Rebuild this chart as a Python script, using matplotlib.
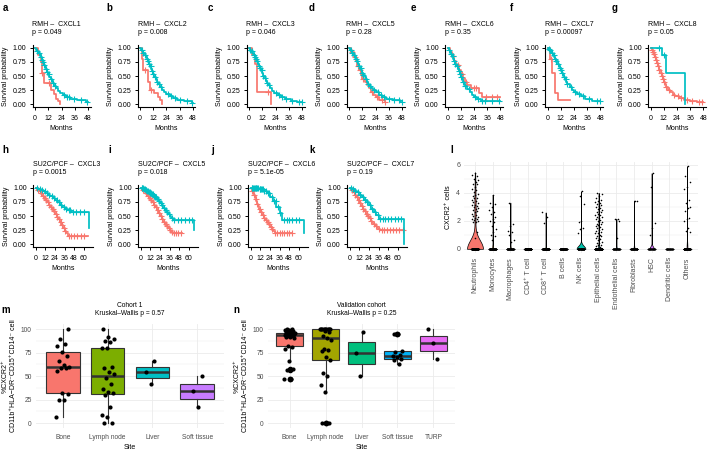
import numpy as np
import matplotlib
matplotlib.use("Agg")
import matplotlib.pyplot as plt

plt.rcParams['font.family'] = ['Liberation Sans', 'DejaVu Sans']

RED = '#F8766D'
TEAL = '#00BFC4'

# ---------------- KM data (RMH cohort, months 0-48) ----------------
a_title, a_p = "RMH \u2013  CXCL1", "p = 0.049"
a_teal_t = [0, 1, 2, 3, 4, 5, 6, 7, 8, 9, 10, 11, 12, 13, 14, 15, 16, 17, 19, 21, 23, 25, 28, 32, 38, 46, 48]
a_teal_s = [1, .97, .94, .90, .87, .83, .79, .75, .70, .66, .62, .57, .53, .49, .45, .41, .37, .33, .28, .24, .20, .16, .13, .10, .07, .03, .03]
a_teal_c = [2, 3.5, 5, 6, 7.5, 8.5, 10, 11, 12.5, 14, 16, 18, 26, 29, 31, 35, 42, 47.5]
a_red_t = [0, 3, 5, 6, 8, 14, 17, 19, 21, 23]
a_red_s = [1, .88, .75, .55, .37, .25, .18, .1, .05, 0]
a_red_c = [6.5, 13]

b_title, b_p = "RMH \u2013  CXCL2", "p = 0.008"
b_teal_t = [0, 1, 2, 3, 4, 5, 6, 7, 8, 9, 10, 11, 12, 13, 14, 15, 16, 18, 20, 22, 24, 27, 30, 34, 40, 47, 48]
b_teal_s = [1, .97, .94, .91, .88, .84, .80, .76, .71, .67, .62, .58, .53, .48, .44, .40, .35, .30, .26, .22, .18, .14, .11, .08, .05, .02, .02]
b_teal_c = [1.5, 3, 4.5, 6, 7, 8.5, 9.5, 11, 12, 13.5, 15, 17, 19, 25, 28, 32, 36, 43, 47.5]
b_red_t = [0, 1.5, 3, 7, 9, 13, 16, 18, 20]
b_red_s = [1, .8, .6, .4, .25, .2, .12, .08, 0]
b_red_c = [4, 10]

c_title, c_p = "RMH \u2013  CXCL3", "p = 0.046"
c_teal_t = [0, 1, 2, 3, 4, 5, 6, 7, 8, 9, 10, 11, 12, 13, 14, 15, 16, 17, 19, 21, 23, 26, 29, 33, 38, 44, 48]
c_teal_s = [1, .97, .94, .91, .87, .84, .80, .76, .72, .68, .64, .60, .55, .50, .46, .42, .38, .34, .29, .24, .20, .16, .12, .09, .06, .03, .03]
c_teal_c = [1, 2.5, 4, 5, 6.5, 7.5, 9, 10, 11.5, 13, 14.5, 16, 18, 24, 27, 30, 34, 39, 45, 48]
c_red_t = [0, 3, 5, 7.5, 20]
c_red_s = [1, .88, .72, .22, 0]
c_red_c = [17]

d_title, d_p = "RMH \u2013  CXCL5", "p = 0.28"
d_teal_t = [0, 1, 2, 3, 4, 5, 6, 7, 8, 9, 10, 11, 12, 13, 14, 15, 16, 17, 18, 20, 22, 24, 27, 30, 34, 40, 46, 48]
d_teal_s = [1, .97, .94, .91, .88, .84, .80, .76, .72, .68, .64, .60, .56, .52, .48, .44, .40, .36, .33, .29, .25, .21, .17, .13, .10, .07, .04, .04]
d_teal_c = [1.5, 3, 4.5, 6, 7.5, 9, 10.5, 12, 13, 15, 17, 19, 23, 26, 29, 32, 36, 41, 45, 48]
d_red_t = [0, 2, 4, 6, 7, 9, 11, 12, 14, 16, 18, 20, 22, 24, 27, 33]
d_red_s = [1, .92, .84, .76, .68, .60, .52, .45, .40, .34, .28, .22, .16, .12, .08, .03]
d_red_c = [3, 5, 8, 10, 13, 21, 25, 30, 33]

e_title, e_p = "RMH \u2013  CXCL6", "p = 0.35"
e_teal_t = [0, 1, 2, 3, 4, 5, 6, 7, 8, 9, 10, 11, 12, 13, 14, 15, 16, 18, 20, 22, 24, 27, 30, 48]
e_teal_s = [1, .97, .93, .89, .85, .81, .77, .72, .68, .63, .58, .53, .48, .44, .40, .36, .32, .27, .22, .17, .13, .09, .05, .05]
e_teal_c = [1.5, 3, 4.5, 6, 7, 8.5, 10, 11, 12.5, 14, 16, 19, 25, 28, 31, 34, 40, 47]
e_red_t = [0, 2, 4, 6, 8, 10, 12, 14, 16, 18, 21, 29, 31, 48]
e_red_s = [1, .93, .85, .77, .69, .61, .53, .46, .40, .34, .28, .20, .13, .13]
e_red_c = [5, 9, 13, 17, 24, 26, 35, 40, 45]

f_title, f_p = "RMH \u2013  CXCL7", "p = 0.00097"
f_teal_t = [0, 1, 2, 3, 4, 5, 6, 7, 8, 9, 10, 11, 12, 13, 14, 15, 16, 17, 18, 20, 22, 24, 27, 30, 34, 40, 48]
f_teal_s = [1, .98, .96, .93, .90, .87, .84, .80, .76, .72, .68, .64, .60, .56, .52, .48, .44, .40, .36, .31, .26, .22, .18, .14, .10, .05, .05]
f_teal_c = [1, 2.5, 4, 5.5, 7, 8, 9.5, 11, 12, 13.5, 15, 16.5, 18, 21, 25, 29, 32, 38, 45, 48]
f_red_t = [0, 2, 4, 6.5, 9, 20]
f_red_s = [1, .8, .55, .2, .07, .07]
f_red_c = [3]

g_title, g_p = "RMH \u2013  CXCL8", "p = 0.05"
g_teal_t = [0, 10.5, 14, 31]
g_teal_s = [1, .88, .55, 0]
g_teal_c = [8, 12.5]
g_red_t = [0, 1, 2, 3, 4, 5, 6, 7, 8, 9, 10, 11, 12, 13, 14, 16, 18, 20, 22, 26, 30, 36, 42, 48]
g_red_s = [1, .97, .93, .89, .84, .79, .73, .67, .61, .55, .50, .45, .40, .35, .31, .26, .21, .17, .14, .11, .08, .06, .04, .03]
g_red_c = [1, 2, 3, 4, 5, 6, 7, 8, 9, 10, 11, 12, 14, 17, 21, 25, 28, 33, 38, 44, 47]

# ---------------- KM data (SU2C/PCF cohort, months 0-68) ----------------
h_title, h_p = "SU2C/PCF \u2013  CXCL3", "p = 0.0015"
h_teal_t = [0, 3, 6, 9, 12, 15, 18, 21, 24, 27, 30, 33, 36, 40, 44, 67]
h_teal_s = [1, .98, .96, .94, .91, .88, .85, .82, .78, .74, .70, .66, .63, .60, .57, .28]
h_teal_c = [2, 5, 8, 11, 14, 17, 20, 23, 26, 29, 32, 35, 38, 41, 43, 46, 50, 55, 60]
h_red_t = [0, 2, 4, 6, 8, 10, 12, 14, 16, 18, 20, 22, 24, 26, 28, 30, 32, 34, 36, 38, 40, 65]
h_red_s = [1, .97, .94, .90, .86, .82, .78, .74, .70, .66, .62, .58, .54, .49, .44, .39, .34, .29, .24, .19, .15, .15]
h_red_c = [3, 5, 7, 9, 11, 13, 15, 17, 19, 21, 23, 25, 27, 29, 31, 33, 35, 37, 41, 44, 48, 52, 56, 60]

i_title, i_p = "SU2C/PCF \u2013  CXCL5", "p = 0.018"
i_teal_t = [0, 2, 4, 6, 8, 10, 12, 14, 16, 18, 20, 22, 24, 26, 28, 30, 32, 34, 36, 38, 40, 67]
i_teal_s = [1, .99, .98, .97, .95, .93, .91, .89, .86, .83, .80, .77, .73, .69, .65, .61, .57, .53, .50, .46, .43, .25]
i_teal_c = [1, 2, 3, 4, 5, 6, 7, 8, 9, 10, 11, 12, 13, 14, 15, 16, 17, 18, 19, 21, 23, 25, 27, 29, 31, 33, 35, 39, 42, 46, 50, 55, 60, 64]
i_red_t = [0, 2, 4, 6, 8, 10, 12, 14, 16, 18, 20, 22, 24, 26, 28, 30, 32, 34, 36, 38, 40, 42, 52]
i_red_s = [1, .97, .94, .90, .86, .82, .78, .74, .70, .66, .61, .56, .50, .45, .40, .36, .32, .28, .25, .22, .20, .19, .19]
i_red_c = [3, 5, 7, 9, 11, 13, 15, 17, 19, 21, 23, 25, 27, 29, 31, 33, 35, 37, 39, 41, 44, 47, 50]

j_title, j_p = "SU2C/PCF \u2013  CXCL6", "p = 5.1e-05"
j_teal_t = [0, 10, 16, 20, 24, 28, 32, 36, 39, 66]
j_teal_s = [1, .98, .95, .90, .84, .76, .66, .55, .43, .20]
j_teal_c = [1, 2, 3, 4, 5, 6, 7, 8, 9, 11, 12, 13, 14, 15, 17, 19, 21, 23, 26, 29, 31, 34, 37, 42, 45, 48, 52, 56, 60]
j_red_t = [0, 1, 2, 3, 4, 5, 6, 7, 8, 9, 10, 12, 14, 16, 18, 20, 22, 24, 26, 28, 30, 52]
j_red_s = [1, .97, .94, .91, .88, .84, .80, .76, .71, .67, .63, .57, .52, .47, .43, .39, .35, .31, .27, .24, .20, .20]
j_red_c = [2, 4, 6, 8, 11, 13, 15, 17, 19, 21, 23, 25, 27, 30, 33, 36, 39, 42, 45, 48, 51]

k_title, k_p = "SU2C/PCF \u2013  CXCL7", "p = 0.19"
k_teal_t = [0, 3, 6, 9, 12, 15, 18, 21, 24, 27, 30, 33, 36, 68]
k_teal_s = [1, .98, .95, .92, .88, .84, .79, .74, .69, .63, .57, .51, .45, 0]
k_teal_c = [2, 4, 7, 10, 13, 16, 19, 22, 25, 28, 31, 35, 38, 41, 44, 48, 52, 56, 60, 64]
k_red_t = [0, 2, 4, 6, 8, 10, 12, 14, 16, 18, 20, 22, 24, 26, 28, 30, 32, 34, 36, 38, 68]
k_red_s = [1, .96, .92, .88, .83, .78, .73, .68, .63, .58, .54, .50, .46, .42, .38, .35, .32, .29, .27, .25, .25]
k_red_c = [3, 5, 7, 9, 11, 13, 15, 17, 19, 21, 23, 25, 27, 30, 33, 37, 40, 43, 46, 50, 54, 58, 62, 66]

# ---------------- Violin data (panel l) ----------------
l_cats = ["Neutrophils", "Monocytes", "Macrophages", "CD4\u207a T cell", "CD8\u207a T cell", "B cells",
          "NK cells", "Epithelial cells", "Endothelial cells", "Fibroblasts", "HSC", "Dendritic cells", "Others"]
l_colors = ['#F8766D', '#E18A00', '#BE9C00', '#8CAB00', '#24B700', '#00BE70', '#00C1AB',
            '#00BBDA', '#00ACFC', '#8B93FF', '#D575FE', '#F962DD', '#FF65AC']
l_zero_counts = [250, 80, 60, 120, 90, 80, 60, 200, 50, 60, 40, 40, 80]
l_pos = [
    [5.45, 5.3, 5.2, 5.0, 4.9, 4.75, 4.65, 4.6, 4.45, 4.3, 4.2, 4.05, 3.95, 3.85, 3.75, 3.65, 3.6, 3.5, 3.4, 3.35,
     3.25, 3.15, 3.1, 3.05, 3.0, 2.9, 2.85, 2.75, 2.7, 2.6, 2.5, 2.45, 2.35, 2.3, 2.2, 2.15, 2.1, 2.05, 2.0, 1.95,
     1.9, 1.2, 0.8],
    [3.85, 3.3, 3.2, 3.0, 2.8, 2.6, 2.5, 2.3, 2.1, 2.0, 1.9, 1.6, 1.4, 1.2, 1.0, 0.9, 0.6],
    [3.3, 1.8, 1.6, 1.3, 1.2, 1.0, 0.6, 0.5],
    [],
    [2.6, 2.3, 1.85],
    [],
    [4.1, 3.8, 3.2, 2.0, 1.9, 1.5, 1.4, 1.1],
    [4.0, 3.95, 3.8, 3.6, 3.5, 3.4, 3.35, 3.3, 3.2, 3.1, 3.05, 3.0, 2.9, 2.85, 2.8, 2.7, 2.65, 2.6, 2.5, 2.45,
     2.4, 2.3, 2.25, 2.2, 2.1, 2.05, 2.0, 1.95, 1.9, 1.8, 1.75, 1.7, 1.6, 1.55, 1.5, 1.4, 1.35, 1.3, 1.2, 1.15,
     1.1, 1.0, 0.95, 0.9, 0.8, 0.75, 0.7, 0.6, 0.5, 0.45, 0.4, 0.3, 0.25, 0.2, 0.1],
    [2.15, 2.1, 2.0, 0.8],
    [3.45, 3.4],
    [5.4, 4.45, 1.85, 1.5, 1.0],
    [],
    [5.9, 5.2, 4.8, 4.4, 4.3, 3.5, 3.3, 3.0, 2.9, 2.7, 2.2, 2.1, 2.0, 1.5, 1.3, 1.2],
]
l_violin_widths = [0.9, 0.05, 0.05, 0, 0.05, 0, 0.5, 0.06, 0.05, 0.05, 0.25, 0, 0.05]
l_bw = [0.5, 0.3, 0.3, 0.3, 0.3, 0.3, 0.25, 0.3, 0.3, 0.3, 0.15, 0.3, 0.3]

# ---------------- Box plot data (panels m, n) ----------------
m_sites = ["Bone", "Lymph node", "Liver", "Soft tissue"]
m_colors = ['#F8766D', '#7CAE00', '#00BFC4', '#C77CFF']
m_vals = [
    [6, 24, 24, 31, 32, 55, 58, 59, 60, 62, 66, 71, 76, 82, 84, 89, 100],
    [0, 0, 6, 9, 17, 30, 32, 33, 36, 42, 48, 52, 54, 58, 60, 80, 80, 86, 87, 89, 91, 100],
    [42, 54, 66],
    [17, 34, 50],
]
m_title = "Cohort 1\nKruskal\u2013Wallis p = 0.57"

n_sites = ["Bone", "Lymph node", "Liver", "Soft tissue", "TURP"]
n_colors = ['#F8766D', '#A3A500', '#00BF7D', '#00B0F6', '#E76BF3']
n_vals = [
    [47, 47, 56, 57, 66, 79, 81, 82, 90, 91, 92, 93, 93, 94, 94, 95, 95, 95, 96, 96, 96, 96, 97, 98, 98, 99, 99, 100, 100],
    [0, 0, 33, 40, 50, 53, 67, 70, 77, 78, 79, 88, 90, 93, 97, 98, 100, 100, 100, 100, 100, 100, 100, 100, 100],
    [50, 75, 97],
    [63, 67, 68, 70, 71, 72, 76, 77, 95, 95],
    [68, 85, 100],
]
n_title = "Validation cohort\nKruskal\u2013Wallis p = 0.25"

box_ylabel = "%CXCR2\u207a\nCD11b\u207aHLA\u2212DR\u207bCD15\u207aCD14\u207b cell"

# =====================================================================
W, H = 708, 451
fig = plt.figure(figsize=(W / 100, H / 100), dpi=100)


def add_ax(l, t, w, h):
    return fig.add_axes([l / W, 1 - (t + h) / H, w / W, h / H])


def jit(n, amp, phase=0.3):
    return ((np.arange(n) * 0.618034 + phase) % 1 - 0.5) * 2 * amp


FS = 5


def km_panel(l, t, w, h, curves, xlim, title, pval, ty):
    ax = add_ax(l, t, w, h)
    for tt, ss, cc, col in curves:
        tt = np.asarray(tt, float)
        ss = np.asarray(ss, float)
        ax.step(tt, ss, where='post', color=col, lw=1.25)
        cc = np.asarray(cc, float)
        idx = np.searchsorted(tt, cc, side='right') - 1
        ax.plot(cc, ss[idx], ls='none', marker='+', ms=4, mew=0.8, color=col)
    ax.set_xlim(*xlim)
    ax.set_ylim(-0.05, 1.05)
    ax.set_xticks(np.arange(0, xlim[1], 12))
    ax.set_yticks([0, .25, .5, .75, 1])
    ax.set_yticklabels(["0.00", "0.25", "0.50", "0.75", "1.00"])
    for s in ['top', 'right']:
        ax.spines[s].set_visible(False)
    for s in ['left', 'bottom']:
        ax.spines[s].set_linewidth(0.8)
    ax.tick_params(length=2, width=0.7, labelsize=FS, pad=2.5, colors='black')
    ax.tick_params(axis='x', pad=3.8)
    ax.set_ylabel("Survival probability", fontsize=FS, labelpad=2.5)
    ax.set_xlabel("Months", fontsize=FS, labelpad=2)
    ax.patch.set_alpha(0)
    fig.text(l / W, 1 - ty / H, title, fontsize=FS, ha='left', va='center')
    fig.text(l / W, 1 - (ty + 8.5) / H, pval, fontsize=FS, ha='left', va='center')
    return ax


row1 = [
    (32.5, a_teal_t, a_teal_s, a_teal_c, a_red_t, a_red_s, a_red_c, a_title, a_p),
    (137.5, b_teal_t, b_teal_s, b_teal_c, b_red_t, b_red_s, b_red_c, b_title, b_p),
    (246.5, c_teal_t, c_teal_s, c_teal_c, c_red_t, c_red_s, c_red_c, c_title, c_p),
    (346.5, d_teal_t, d_teal_s, d_teal_c, d_red_t, d_red_s, d_red_c, d_title, d_p),
    (445, e_teal_t, e_teal_s, e_teal_c, e_red_t, e_red_s, e_red_c, e_title, e_p),
    (545, f_teal_t, f_teal_s, f_teal_c, f_red_t, f_red_s, f_red_c, f_title, f_p),
    (648, g_teal_t, g_teal_s, g_teal_c, g_red_t, g_red_s, g_red_c, g_title, g_p),
]
for (l, tt, ts, tc, rt, rs, rc, ti, pv) in row1:
    km_panel(l, 45, 58, 62, [(rt, rs, rc, RED), (tt, ts, tc, TEAL)], (-2.4, 50.4), ti, pv, 24)

row2 = [
    (33, h_teal_t, h_teal_s, h_teal_c, h_red_t, h_red_s, h_red_c, h_title, h_p),
    (138, i_teal_t, i_teal_s, i_teal_c, i_red_t, i_red_s, i_red_c, i_title, i_p),
    (248, j_teal_t, j_teal_s, j_teal_c, j_red_t, j_red_s, j_red_c, j_title, j_p),
    (347, k_teal_t, k_teal_s, k_teal_c, k_red_t, k_red_s, k_red_c, k_title, k_p),
]
for (l, tt, ts, tc, rt, rs, rc, ti, pv) in row2:
    km_panel(l, 185, 60, 62, [(rt, rs, rc, RED), (tt, ts, tc, TEAL)], (-3.4, 71.4), ti, pv, 164)

# ---------------- panel l: violins ----------------
GRID = '#EBEBEB'
axl = add_ax(464.4, 162, 233.2, 91)
ncat = len(l_cats)
pos = np.arange(1, ncat + 1)
for i in range(ncat):
    vals = np.concatenate([np.zeros(l_zero_counts[i]), np.asarray(l_pos[i], float)])
    if len(l_pos[i]) > 0 and l_violin_widths[i] > 0:
        vp = axl.violinplot([vals], positions=[pos[i]], widths=l_violin_widths[i], showextrema=False,
                            bw_method=l_bw[i], points=300)
        for b in vp['bodies']:
            b.set_facecolor(l_colors[i])
            b.set_edgecolor('black')
            b.set_linewidth(0.5)
            b.set_alpha(1)
            b.set_zorder(2)
    xs = pos[i] + jit(len(vals), 0.2, phase=0.1 * i)
    axl.scatter(xs, vals, s=1.3, color='black', lw=0, zorder=3)
axl.set_xlim(0.4, ncat + 0.6)
axl.set_ylim(-0.3, 6.2)
axl.set_xticks(pos)
axl.set_xticklabels(l_cats, rotation=90, fontsize=5, color='#4D4D4D')
axl.set_yticks([0, 2, 4, 6])
axl.set_yticks([1, 3, 5], minor=True)
axl.tick_params(length=0, labelsize=5, labelcolor='#4D4D4D', pad=3)
axl.tick_params(which='minor', length=0)
axl.grid(True, which='major', color=GRID, lw=0.6)
axl.grid(True, which='minor', axis='y', color=GRID, lw=0.3)
axl.set_axisbelow(True)
for s in axl.spines.values():
    s.set_visible(False)
axl.set_ylabel("CXCR2\u207a cells", fontsize=FS, labelpad=3)


# ---------------- panels m, n: box plots ----------------
def box_panel(l, w, sites, vals, colors, title):
    ax = add_ax(l, 324.3, w, 103.4)
    k = len(sites)
    p = np.arange(1, k + 1)
    bp = ax.boxplot(vals, positions=p, widths=0.75, patch_artist=True, whis=1.5, showcaps=False,
                    medianprops=dict(color='#333333', lw=1.8),
                    boxprops=dict(edgecolor='#333333', lw=0.8),
                    whiskerprops=dict(color='#333333', lw=0.8),
                    flierprops=dict(marker='o', markerfacecolor='black', markeredgecolor='black', markersize=3))
    for patch, c in zip(bp['boxes'], colors):
        patch.set_facecolor(c)
    for i in range(k):
        v = np.asarray(vals[i], float)
        ax.scatter(p[i] + jit(len(v), 0.15, phase=0.2 * i), v, s=9, color='black', lw=0, zorder=4)
    ax.set_xlim(0.4, k + 0.6)
    ax.set_ylim(-5, 105)
    ax.set_xticks(p)
    ax.set_xticklabels(sites)
    ax.set_yticks([0, 25, 50, 75, 100])
    ax.set_yticks([12.5, 37.5, 62.5, 87.5], minor=True)
    ax.tick_params(length=0, labelsize=4.8, labelcolor='#4D4D4D', pad=3)
    ax.tick_params(axis='x', pad=4.5)
    ax.tick_params(which='minor', length=0)
    ax.grid(True, which='major', color=GRID, lw=0.6)
    ax.grid(True, which='minor', axis='y', color=GRID, lw=0.3)
    ax.set_axisbelow(True)
    for s in ax.spines.values():
        s.set_visible(False)
    ax.set_xlabel("Site", fontsize=FS, labelpad=2.5)
    ax.set_ylabel(box_ylabel, fontsize=FS, labelpad=3, linespacing=1.2)
    ax.set_title(title, fontsize=4.8, pad=7, linespacing=1.15)
    return ax


box_panel(36, 188, m_sites, m_vals, m_colors, m_title)
box_panel(268, 187, n_sites, n_vals, n_colors, n_title)

# ---------------- panel letters ----------------
letters = [("a", 5, 8), ("b", 109, 8), ("c", 210, 8), ("d", 312, 8), ("e", 413, 8), ("f", 512, 8), ("g", 615, 8),
           ("h", 5, 150), ("i", 110, 150), ("j", 213, 150), ("k", 312, 150), ("l", 452, 150),
           ("m", 6, 310), ("n", 236, 310)]
for ch, x, y in letters:
    fig.text(x / W, 1 - y / H, ch, fontsize=7, fontweight='bold', ha='center', va='center')

fig.savefig("out.png", dpi=100)
